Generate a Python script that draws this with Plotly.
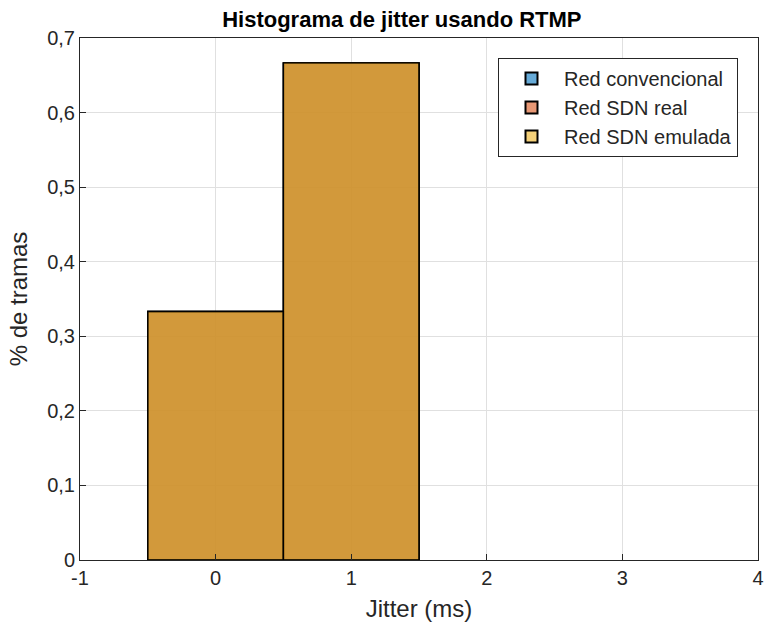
import plotly.graph_objects as go

jitter_bins = [0, 1]
conv_vals = [0.3333, 0.6667]
sdn_real_vals = [0.3333, 0.6667]
sdn_emul_vals = [0.3333, 0.6667]
series_names = ["Red convencional", "Red SDN real", "Red SDN emulada"]
series_colors = ["rgba(0,114,189,0.6)", "rgba(217,83,25,0.6)", "rgba(237,177,32,0.6)"]
x_tick_vals = [-1, 0, 1, 2, 3, 4]
x_tick_text = ["-1", "0", "1", "2", "3", "4"]

fig = go.Figure()
for name, vals, col in zip(series_names, [conv_vals, sdn_real_vals, sdn_emul_vals], series_colors):
    fig.add_trace(go.Bar(x=jitter_bins, y=vals, name=name, width=1,
                         marker=dict(color=col, line=dict(color="black", width=1.4))))

font = "Liberation Sans, Arial, sans-serif"
fig.update_layout(
    width=764, height=633,
    barmode="overlay",
    separators=",.",
    plot_bgcolor="white", paper_bgcolor="white",
    margin=dict(l=80, r=6, t=38, b=73),
    title=dict(text="<b>Histograma de jitter usando RTMP</b>", x=0.526, xanchor="center",
               y=0.97, yanchor="middle", font=dict(family=font, size=22, color="black")),
    font=dict(family=font, size=20, color="#262626"),
    legend=dict(x=0.9705, y=0.9617, xanchor="right", yanchor="top",
                bgcolor="white", bordercolor="#262626", borderwidth=1,
                font=dict(family=font, size=20, color="#262626"),
                tracegroupgap=0, itemsizing="constant", itemwidth=55),
    xaxis=dict(range=[-1, 4], tickvals=x_tick_vals, ticktext=x_tick_text,
               showgrid=True, gridcolor="#e0e0e0", ticklabeloverflow="allow",
               automargin=False,
               showline=True, linecolor="#262626", linewidth=1, mirror=True,
               ticks="inside", ticklen=6, tickcolor="#262626", zeroline=False,
               tickfont=dict(size=20),
               title=dict(text="Jitter (ms)", font=dict(size=24), standoff=12)),
    yaxis=dict(range=[0, 0.7], dtick=0.1, showgrid=True, gridcolor="#e0e0e0",
               showline=True, linecolor="#262626", linewidth=1, mirror=True,
               ticks="inside", ticklen=6, tickcolor="#262626", zeroline=False,
               automargin=False,
               tickformat=".1~f", tickfont=dict(size=20),
               title=dict(text="% de tramas", font=dict(size=24), standoff=12)),
)
fig.write_html("out.html", config={"displayModeBar": False},
               post_script="document.body.style.margin='0';")
